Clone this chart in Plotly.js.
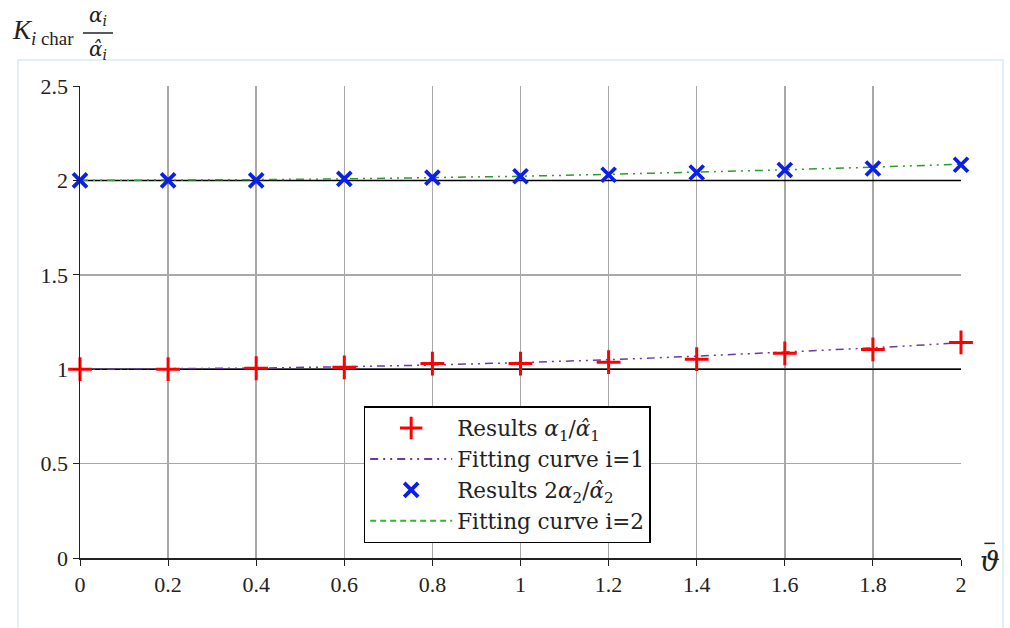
<!DOCTYPE html>
<html><head><meta charset="utf-8">
<script src="https://cdn.plot.ly/plotly-3.0.1.min.js"></script>
<style>body{margin:0;background:#fff}#c{width:1010px;height:628px}</style>
</head><body><div id="c"></div>
<script>
const xPts = [0,0.2,0.4,0.6,0.8,1.0,1.2,1.4,1.6,1.8,2.0];
const res1 = [1.000,1.000,1.005,1.010,1.030,1.030,1.037,1.053,1.084,1.105,1.142];
const res2 = [2.000,2.000,2.000,2.008,2.015,2.022,2.030,2.042,2.055,2.063,2.083];
const xFit = [0,0.2,0.4,0.6,0.8,1.0,1.2,1.4,1.6,1.8,2.0];
const fit1 = [1.000,1.001,1.006,1.013,1.022,1.035,1.050,1.069,1.090,1.113,1.140];
const fit2 = [2.000,2.001,2.004,2.008,2.014,2.022,2.032,2.043,2.056,2.070,2.086];
const refX = [0,2];
const ref1 = [1,1];
const ref2 = [2,2];
const xTicks = [0,0.2,0.4,0.6,0.8,1,1.2,1.4,1.6,1.8,2];
const xTickText = ["0","0.2","0.4","0.6","0.8","1","1.2","1.4","1.6","1.8","2"];
const yTicks = [0,0.5,1,1.5,2,2.5];
const yTickText = ["0","0.5","1","1.5","2","2.5"];

const serif = "Liberation Serif, DejaVu Serif, serif";
const mathf = "DejaVu Serif, serif";
const traces = [
  {x: refX, y: ref1, mode:'lines', line:{color:'#000', width:1.5}, showlegend:false, hoverinfo:'skip'},
  {x: refX, y: ref2, mode:'lines', line:{color:'#000', width:1.5}, showlegend:false, hoverinfo:'skip'},
  {x: xFit, y: fit1, mode:'lines', line:{color:'#6a3aa8', width:1.5, dash:'8px,5px,2px,5px,2px,5px'}, showlegend:false},
  {x: xFit, y: fit2, mode:'lines', line:{color:'#2e9a2e', width:1.5, dash:'8px,5px,2px,5px,2px,5px'}, showlegend:false},
  {x: xPts, y: res1, mode:'markers', name:'Results <i>α</i><sub>1</sub>/<i>α̂</i><sub>1</sub>',
   marker:{symbol:'cross-thin-open', size:17, color:'#ff0000', line:{width:3, color:'#ff0000'}}, cliponaxis:false},
  {x: [null], y: [null], mode:'lines', name:'Fitting curve i=1', line:{color:'#6a3aa8', width:2, dash:'8px,5px,2px,5px,2px,5px'}},
  {x: xPts, y: res2, mode:'markers', name:'Results 2<i>α</i><sub>2</sub>/<i>α̂</i><sub>2</sub>',
   marker:{symbol:'x-thin-open', size:14, color:'#0a1fe8', line:{width:3.8, color:'#0a1fe8'}}, cliponaxis:false},
  {x: [null], y: [null], mode:'lines', name:'Fitting curve i=2', line:{color:'#2eb82e', width:2, dash:'6px,4px'}}
];

const layout = {
  width:1010, height:628,
  margin:{l:80, r:49, t:86, b:70},
  paper_bgcolor:'#fff', plot_bgcolor:'#fff',
  font:{family:serif, size:17, color:'#222'},
  showlegend:true,
  legend:{x:0.322, y:0.322, xanchor:'left', yanchor:'top', bgcolor:'#fff',
    bordercolor:'#000', borderwidth:1.5, font:{family:mathf, size:21.5, color:'#222'},
    itemwidth:82, tracegroupgap:0},
  xaxis:{range:[0,2], tickvals:xTicks, ticktext:xTickText, showgrid:true, gridcolor:'#a8a8a8', gridwidth:1.5,
    zeroline:false, showline:true, linecolor:'#222', linewidth:1.5, ticks:'outside', ticklen:6, tickcolor:'#222',
    tickfont:{family:serif, size:22}, fixedrange:true},
  yaxis:{range:[0,2.5], tickvals:yTicks, ticktext:yTickText, showgrid:true, gridcolor:'#a8a8a8', gridwidth:1.5,
    zeroline:false, showline:true, linecolor:'#222', linewidth:1.5, ticks:'outside', ticklen:6, tickcolor:'#222',
    tickfont:{family:serif, size:22}, fixedrange:true},
  shapes:[
    {type:'rect', xref:'paper', yref:'paper', x0:-0.0704, x1:1.0477, y0:-0.25, y1:1.055, line:{color:'#d8eaf8', width:1.5}, layer:'below'},
    {type:'line', xref:'paper', yref:'paper', x0:0.0034, x1:0.0375, y0:1.1123, y1:1.1123, line:{color:'#222', width:1.5}},
    {type:'line', xref:'paper', yref:'paper', x0:1.0265, x1:1.0385, y0:0.031, y1:0.031, line:{color:'#222', width:1.5}}
  ],
  annotations:[
    {xref:'paper', yref:'paper', x:-0.0795, y:1.115, xanchor:'left', yanchor:'middle', showarrow:false,
     text:'<i>K</i><sub><i>i</i> char</sub>', font:{family:serif, size:27, color:'#222'}},
    {xref:'paper', yref:'paper', x:0.0205, y:1.116, xanchor:'center', yanchor:'bottom', showarrow:false,
     text:'<i>α</i><sub><i>i</i></sub>', font:{family:mathf, size:20, color:'#222'}},
    {xref:'paper', yref:'paper', x:0.0205, y:1.108, xanchor:'center', yanchor:'top', showarrow:false,
     text:'<i>α̂</i><sub><i>i</i></sub>', font:{family:mathf, size:20, color:'#222'}},
    {xref:'paper', yref:'paper', x:1.0325, y:-0.008, xanchor:'center', yanchor:'middle', showarrow:false,
     text:'<i>ϑ</i>', font:{family:mathf, size:28, color:'#222'}}
  ]
};
Plotly.newPlot('c', traces, layout, {staticPlot:true});
</script></body></html>
